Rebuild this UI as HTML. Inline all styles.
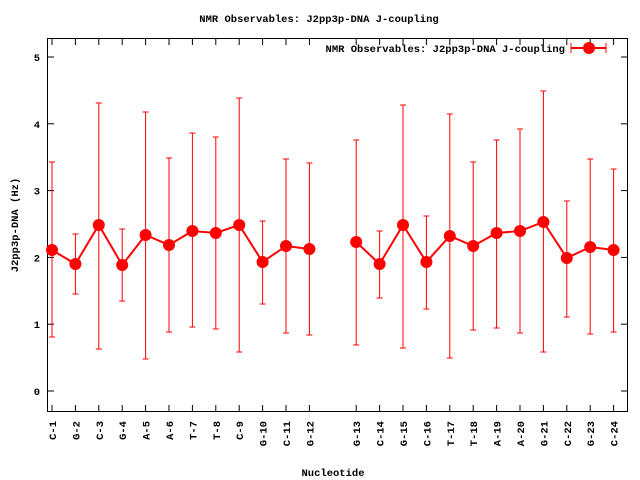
<!DOCTYPE html>
<html><head><meta charset="utf-8"><style>
html,body{margin:0;padding:0;background:#fff;}
svg{display:block;}
text{font-family:"Liberation Mono","DejaVu Sans Mono",monospace;font-weight:bold;font-size:10.5px;fill:#000;}
</style></head><body>
<svg width="640" height="480" viewBox="0 0 640 480" xmlns="http://www.w3.org/2000/svg">
<rect width="640" height="480" fill="#fff"/>
<text x="319" y="22" text-anchor="middle">NMR Observables: J2pp3p-DNA J-coupling</text>
<rect x="47.5" y="38.5" width="580" height="373" fill="none" stroke="#000" stroke-width="1"/>
<g id="yt" stroke="#000" stroke-width="1"></g>
<g id="xt" stroke="#000" stroke-width="1"></g>
<g id="lab"></g>
<g id="eb" stroke="#f00" stroke-width="1"></g>
<g id="ln" fill="none" stroke="#f00" stroke-width="2"></g>
<g id="mk" fill="#f00"></g>
<text x="18" y="225" text-anchor="middle" transform="rotate(-90 18 225)">J2pp3p-DNA (Hz)</text>
<text x="333" y="476" text-anchor="middle">Nucleotide</text>
<text x="565" y="52" text-anchor="end">NMR Observables: J2pp3p-DNA J-coupling</text>
<line x1="571" y1="48" x2="606" y2="48" stroke="#f00" stroke-width="2"/>
<line x1="571" y1="43" x2="571" y2="53" stroke="#f00" stroke-width="1"/>
<line x1="606" y1="43" x2="606" y2="53" stroke="#f00" stroke-width="1"/>
<circle cx="589" cy="48" r="6" fill="#f00"/>
</svg>
<script>
const NS="http://www.w3.org/2000/svg";
function el(p,t,a,txt){const e=document.createElementNS(NS,t);for(const k in a)e.setAttribute(k,a[k]);if(txt)e.textContent=txt;document.getElementById(p).appendChild(e);}
for(let v=0;v<=5;v++){const y=391-v*66.8;
el('yt','line',{x1:47.5,y1:y,x2:54,y2:y});el('yt','line',{x1:621,y1:y,x2:627.5,y2:y});
el('lab','text',{x:40,y:y+4,'text-anchor':'end'},String(v));}
const names=["C-1","G-2","C-3","G-4","A-5","A-6","T-7","T-8","C-9","G-10","C-11","G-12",null,"G-13","C-14","G-15","C-16","T-17","T-18","A-19","A-20","G-21","C-22","G-23","C-24"];
const d=[[250,337,162],[264,294,234],[225,349,103],[265,301,229],[235,359,112],[245,332,158],[231,327,133],[233,329,137],[225,352,98],[262,304,221],[246,333,159],[249,335,163],null,[242,345,140],[264,298,231],[225,348,105],[262,309,216],[236,358,114],[246,330,162],[233,328,140],[231,333,129],[222,352,91],[258,317,201],[247,334,159],[250,332,169]];
let seg=[];const segs=[];
names.forEach((n,i)=>{const x=52+i*23.4;
if(n){el('xt','line',{x1:x,y1:411.5,x2:x,y2:405});el('xt','line',{x1:x,y1:38.5,x2:x,y2:45});
el('lab','text',{x:x+4,y:421,'text-anchor':'end',transform:`rotate(-90 ${x+4} 421)`},n);}
const v=d[i];if(v){el('eb','line',{x1:x,y1:v[1],x2:x,y2:v[2]});el('eb','line',{x1:x-3,y1:v[1],x2:x+3,y2:v[1]});el('eb','line',{x1:x-3,y1:v[2],x2:x+3,y2:v[2]});
seg.push(x+','+v[0]);el('mk','circle',{cx:x,cy:v[0],r:6});}else{segs.push(seg);seg=[];}});
segs.push(seg);segs.forEach(s=>el('ln','polyline',{points:s.join(' ')}));
</script>
</body></html>
